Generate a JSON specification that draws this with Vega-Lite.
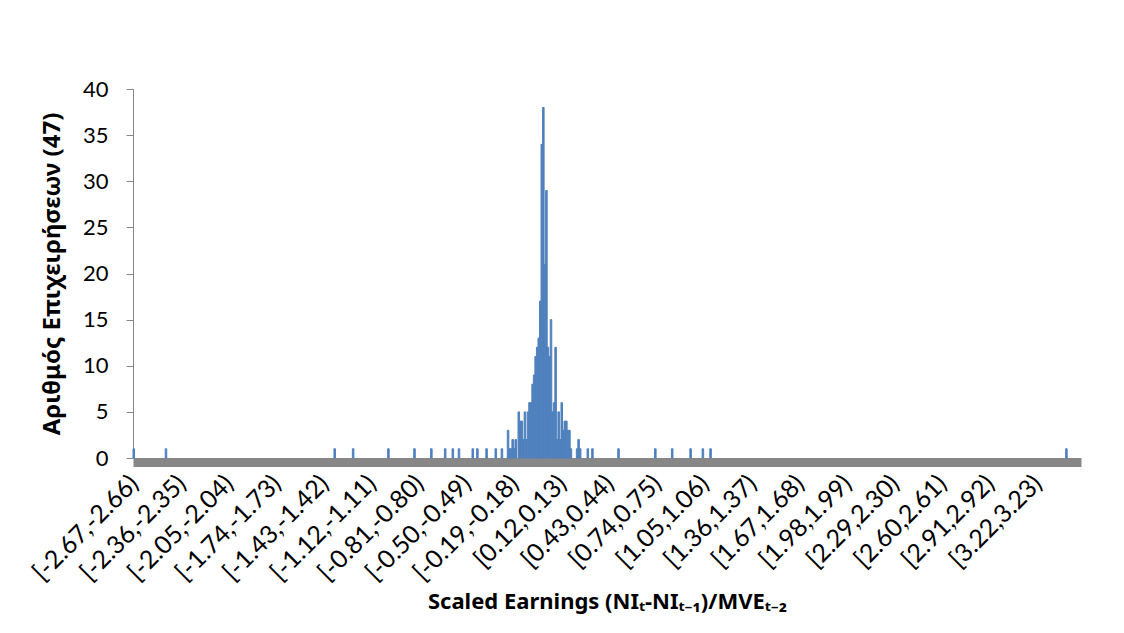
{
  "$schema": "https://vega.github.io/schema/vega-lite/v6.json",
  "width": 948,
  "height": 369,
  "autosize": {"type": "none"},
  "padding": {"left": 133, "top": 89, "right": 43, "bottom": 175},
  "background": "white",
  "config": {"view": {"stroke": null}, "axis": {"grid": false}},
  "data": {"values": [
    {"lo": -2.67, "hi": -2.66, "n": 1},
    {"lo": -2.46, "hi": -2.45, "n": 1},
    {"lo": -1.36, "hi": -1.35, "n": 1},
    {"lo": -1.24, "hi": -1.23, "n": 1},
    {"lo": -1.01, "hi": -1.00, "n": 1},
    {"lo": -0.84, "hi": -0.83, "n": 1},
    {"lo": -0.73, "hi": -0.72, "n": 1},
    {"lo": -0.64, "hi": -0.63, "n": 1},
    {"lo": -0.59, "hi": -0.58, "n": 1},
    {"lo": -0.55, "hi": -0.54, "n": 1},
    {"lo": -0.46, "hi": -0.45, "n": 1},
    {"lo": -0.43, "hi": -0.42, "n": 1},
    {"lo": -0.37, "hi": -0.36, "n": 1},
    {"lo": -0.31, "hi": -0.30, "n": 1},
    {"lo": -0.27, "hi": -0.26, "n": 1},
    {"lo": -0.23, "hi": -0.22, "n": 3},
    {"lo": -0.22, "hi": -0.21, "n": 1},
    {"lo": -0.21, "hi": -0.20, "n": 1},
    {"lo": -0.20, "hi": -0.19, "n": 2},
    {"lo": -0.19, "hi": -0.18, "n": 1},
    {"lo": -0.18, "hi": -0.17, "n": 2},
    {"lo": -0.16, "hi": -0.15, "n": 5},
    {"lo": -0.15, "hi": -0.14, "n": 4},
    {"lo": -0.14, "hi": -0.13, "n": 4},
    {"lo": -0.13, "hi": -0.12, "n": 2},
    {"lo": -0.12, "hi": -0.11, "n": 5},
    {"lo": -0.11, "hi": -0.10, "n": 2},
    {"lo": -0.10, "hi": -0.09, "n": 5},
    {"lo": -0.09, "hi": -0.08, "n": 6},
    {"lo": -0.08, "hi": -0.07, "n": 6},
    {"lo": -0.07, "hi": -0.06, "n": 8},
    {"lo": -0.06, "hi": -0.05, "n": 9},
    {"lo": -0.05, "hi": -0.04, "n": 11},
    {"lo": -0.04, "hi": -0.03, "n": 12},
    {"lo": -0.03, "hi": -0.02, "n": 13},
    {"lo": -0.02, "hi": -0.01, "n": 17},
    {"lo": -0.01, "hi": 0.00, "n": 34},
    {"lo": 0.00, "hi": 0.01, "n": 38},
    {"lo": 0.01, "hi": 0.02, "n": 21},
    {"lo": 0.02, "hi": 0.03, "n": 29},
    {"lo": 0.03, "hi": 0.04, "n": 12},
    {"lo": 0.04, "hi": 0.05, "n": 11},
    {"lo": 0.05, "hi": 0.06, "n": 15},
    {"lo": 0.06, "hi": 0.07, "n": 5},
    {"lo": 0.07, "hi": 0.08, "n": 6},
    {"lo": 0.08, "hi": 0.09, "n": 12},
    {"lo": 0.09, "hi": 0.10, "n": 2},
    {"lo": 0.10, "hi": 0.11, "n": 5},
    {"lo": 0.11, "hi": 0.12, "n": 2},
    {"lo": 0.12, "hi": 0.13, "n": 6},
    {"lo": 0.13, "hi": 0.14, "n": 3},
    {"lo": 0.14, "hi": 0.15, "n": 4},
    {"lo": 0.15, "hi": 0.16, "n": 4},
    {"lo": 0.16, "hi": 0.17, "n": 3},
    {"lo": 0.17, "hi": 0.18, "n": 3},
    {"lo": 0.18, "hi": 0.19, "n": 1},
    {"lo": 0.22, "hi": 0.23, "n": 1},
    {"lo": 0.23, "hi": 0.24, "n": 2},
    {"lo": 0.24, "hi": 0.25, "n": 1},
    {"lo": 0.29, "hi": 0.30, "n": 1},
    {"lo": 0.32, "hi": 0.33, "n": 1},
    {"lo": 0.49, "hi": 0.50, "n": 1},
    {"lo": 0.73, "hi": 0.74, "n": 1},
    {"lo": 0.84, "hi": 0.85, "n": 1},
    {"lo": 0.96, "hi": 0.97, "n": 1},
    {"lo": 1.04, "hi": 1.05, "n": 1},
    {"lo": 1.09, "hi": 1.10, "n": 1},
    {"lo": 3.41, "hi": 3.42, "n": 1}
  ]},
  "mark": {"type": "bar", "color": "#4F81BD", "stroke": "#4F81BD", "strokeWidth": 1},
  "encoding": {
    "x": {
      "field": "lo",
      "type": "quantitative",
      "scale": {"domain": [-2.67, 3.51], "nice": false, "zero": false},
      "axis": {
        "title": "Scaled Earnings (NIₜ-NIₜ₋₁)/MVEₜ₋₂",
        "values": [-2.665, -2.355, -2.045, -1.735, -1.425, -1.115, -0.805, -0.495, -0.185, 0.125, 0.435, 0.745, 1.055, 1.365, 1.675, 1.985, 2.295, 2.605, 2.915, 3.225],
        "labelExpr": "'[' + replace(format(datum.value - 0.005, '.2f'), '\u2212', '-') + ',' + replace(format(datum.value + 0.005, '.2f'), '\u2212', '-') + ')'",
        "labelAngle": -45,
        "labelAlign": "right",
        "labelBaseline": "middle",
        "labelFont": "Lato",
        "labelFontSize": 25,
        "labelColor": "black",
        "labelPadding": 17,
        "labelOverlap": false,
        "labelBound": false,
        "labelFlush": false,
        "ticks": false,
        "domainColor": "#878787",
        "domainWidth": 9,
        "offset": 4,
        "titleFont": "Noto Sans",
        "titleFontSize": 22,
        "titleFontWeight": "bold",
        "titleColor": "black",
        "titlePadding": 6
      }
    },
    "x2": {"field": "hi"},
    "y": {
      "field": "n",
      "type": "quantitative",
      "scale": {"domain": [0, 40]},
      "axis": {
        "title": "Αριθμός Επιχειρήσεων (47)",
        "values": [0, 5, 10, 15, 20, 25, 30, 35, 40],
        "labelFont": "Lato",
        "labelFontSize": 22,
        "labelColor": "black",
        "labelPadding": 18,
        "tickSize": 7,
        "tickColor": "#878787",
        "domainColor": "#878787",
        "titleFont": "Noto Sans",
        "titleFontSize": 24,
        "titleFontWeight": "bold",
        "titleColor": "black",
        "titlePadding": 18
      }
    },
    "y2": {"datum": 0}
  }
}
